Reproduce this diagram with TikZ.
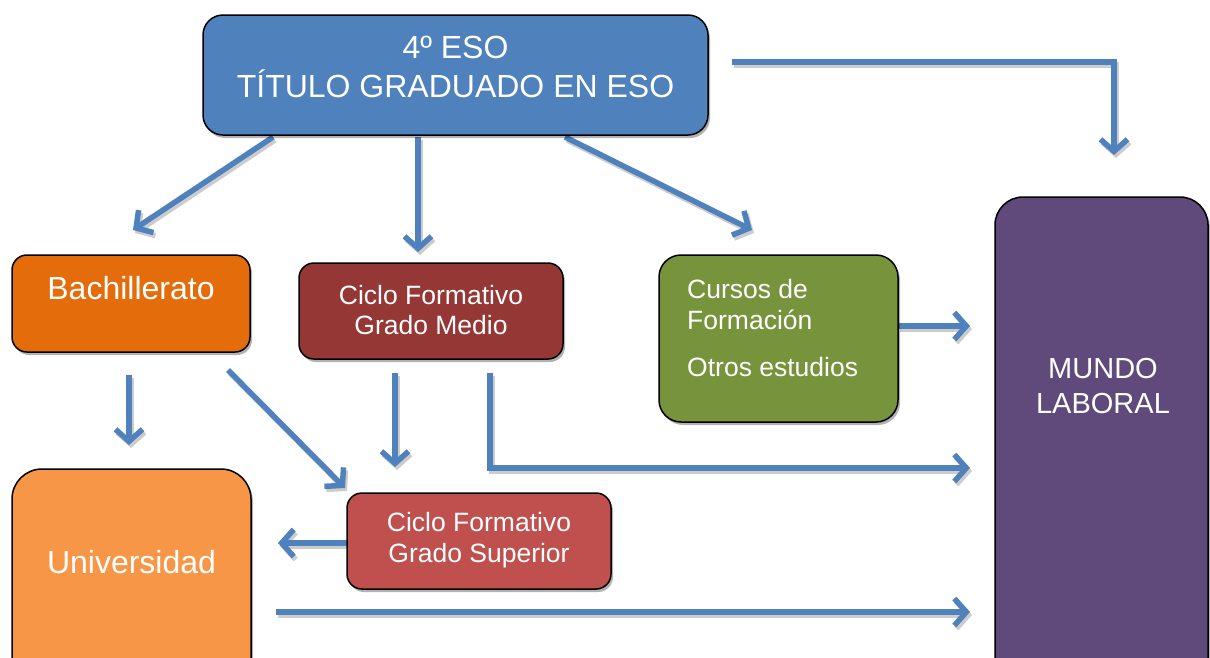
\documentclass[tikz,border=0pt]{standalone}
\usepackage{fontspec}
\setmainfont{Liberation Sans}
\usetikzlibrary{arrows.meta,shadows,calc}
\definecolor{cblue}{HTML}{4F81BD}
\definecolor{corange}{HTML}{E46C0A}
\definecolor{cdred}{HTML}{953735}
\definecolor{cgreen}{HTML}{77933C}
\definecolor{cpurple}{HTML}{604A7B}
\definecolor{clorange}{HTML}{F79646}
\definecolor{cred}{HTML}{C0504D}
\begin{document}
\begin{tikzpicture}[x=1pt,y=-1pt,
  box/.style={draw=black, line width=1.5pt, inner sep=0pt, rectangle,
    drop shadow={shadow xshift=2pt,shadow yshift=-3pt,opacity=0.3,fill=black}},
  lbl/.style={text=white, inner sep=0pt, align=center},
  conn/.style={draw=cblue, line width=5.5pt, line join=miter,
    -{Straight Barb[length=12pt,width=27pt]}},
  connshade/.style={conn, draw=black!20, transform canvas={xshift=2pt,yshift=-3pt}}]
\useasboundingbox (0,0) rectangle (1210,657);
\clip (0,0) rectangle (1210,657);
% connector end points
\coordinate (a1s) at (273,137); \coordinate (a1e) at (133,230);
\coordinate (a2s) at (418,137); \coordinate (a2e) at (418,252);
\coordinate (a3s) at (565,137); \coordinate (a3e) at (752,230);
\coordinate (a4s) at (732,62);  \coordinate (a4m) at (1114,62); \coordinate (a4e) at (1114,155);
\coordinate (a5s) at (898,326); \coordinate (a5e) at (970,326);
\coordinate (a6s) at (129,375); \coordinate (a6e) at (129,445);
\coordinate (a7s) at (228,370); \coordinate (a7e) at (345,488);
\coordinate (a8s) at (395,373); \coordinate (a8e) at (395,467);
\coordinate (a9s) at (490,373); \coordinate (a9m) at (490,468); \coordinate (a9e) at (970,468);
\coordinate (a10s) at (347,543); \coordinate (a10e) at (278,543);
\coordinate (a11s) at (276,612); \coordinate (a11e) at (970,612);
% connector shadows
\draw[connshade] (a1s) -- (a1e);
\draw[connshade] (a2s) -- (a2e);
\draw[connshade] (a3s) -- (a3e);
\draw[connshade] (a4s) -- (a4m) -- (a4e);
\draw[connshade] (a5s) -- (a5e);
\draw[connshade] (a6s) -- (a6e);
\draw[connshade] (a7s) -- (a7e);
\draw[connshade] (a8s) -- (a8e);
\draw[connshade] (a9s) -- (a9m) -- (a9e);
\draw[connshade] (a10s) -- (a10e);
\draw[connshade] (a11s) -- (a11e);
% connectors
\draw[conn] (a1s) -- (a1e);
\draw[conn] (a2s) -- (a2e);
\draw[conn] (a3s) -- (a3e);
\draw[conn] (a4s) -- (a4m) -- (a4e);
\draw[conn] (a5s) -- (a5e);
\draw[conn] (a6s) -- (a6e);
\draw[conn] (a7s) -- (a7e);
\draw[conn] (a8s) -- (a8e);
\draw[conn] (a9s) -- (a9m) -- (a9e);
\draw[conn] (a10s) -- (a10e);
\draw[conn] (a11s) -- (a11e);
% boxes
\node[box, fill=cblue, rounded corners=20pt, minimum width=505pt, minimum height=120pt] (top) at (455.5,75) {};
\node[box, fill=corange, rounded corners=15pt, minimum width=238pt, minimum height=97pt] (bach) at (131,303.5) {};
\node[box, fill=cdred, rounded corners=15pt, minimum width=264pt, minimum height=96pt] (cfgm) at (431,311) {};
\node[box, fill=cgreen, rounded corners=22pt, minimum width=239pt, minimum height=167pt] (cursos) at (778.5,338.5) {};
\node[box, fill=cpurple, rounded corners=28pt, minimum width=213pt, minimum height=503pt] (mundo) at (1101.5,448.5) {};
\node[box, fill=clorange, rounded corners=30pt, minimum width=239pt, minimum height=231pt] (univ) at (131.5,584.5) {};
\node[box, fill=cred, rounded corners=15pt, minimum width=264pt, minimum height=96pt] (cfgs) at (479,541) {};
% texts
\node[lbl, font=\fontsize{32}{39}\selectfont] (topT) at (455.5,66.5) {4º ESO\\TÍTULO GRADUADO EN ESO};
\node[lbl, font=\fontsize{32}{39}\selectfont] (bachT) at (131,288) {Bachillerato};
\node[lbl, font=\fontsize{26.5}{30}\selectfont] (cfgmT) at (431,310) {Ciclo Formativo\\Grado Medio};
\node[lbl, align=left, anchor=west, font=\fontsize{26.5}{31}\selectfont] (cursosT) at (687,328) {Cursos de\\Formación\\[16pt]Otros estudios};
\node[lbl, font=\fontsize{29}{35}\selectfont] (mundoT) at (1103,386.5) {MUNDO\\LABORAL};
\node[lbl, font=\fontsize{32}{39}\selectfont] (univT) at (131.5,562) {Universidad};
\node[lbl, font=\fontsize{26.5}{31}\selectfont] (cfgsT) at (479,540.5) {Ciclo Formativo\\Grado Superior};
\end{tikzpicture}
\end{document}
